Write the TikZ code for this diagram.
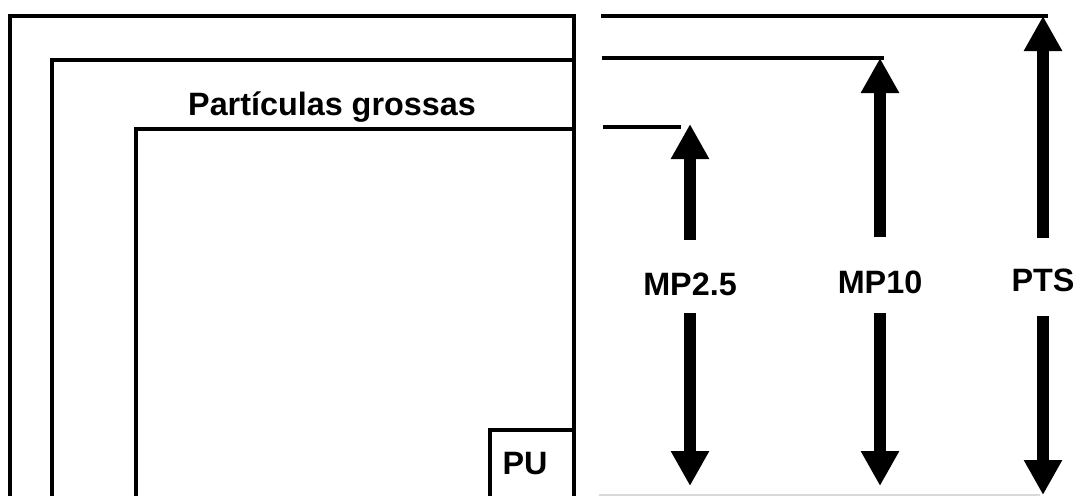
\documentclass[tikz,border=0pt]{standalone}
\usepackage{fontspec}
\setmainfont{Liberation Sans}
\usepackage{tikz}
\usetikzlibrary{arrows.meta, positioning}
\definecolor{linha}{gray}{0}
\tikzset{
	caixa/.style={linha, line width=0.115cm},
	rotulo/.style={anchor=base, inner sep=0pt, font=\fontsize{23}{27}\selectfont\bfseries},
	seta/.style={line width=0.29cm, -{Triangle[width=0.9cm, length=0.875cm]}}
}

\begin{document}
\begin{tikzpicture}[x=0.025cm, y=-0.025cm]
\useasboundingbox (0,0) rectangle (1078,496);
\draw[caixa](10,496)--(10,16)--(574,16)--(574,496);
\draw[caixa](52,496)--(52,60)--(574,60);
\draw[caixa](136,496)--(136,129)--(574,129);
\draw[caixa](490,496)--(490,430)--(574,430);
\node[rotulo] (grossas) at (332,115) {Partículas grossas};
\node[rotulo] (pu) at (525,474) {PU};
\draw[caixa](601,16)--(1048,16);
\draw[caixa](602,58)--(884,58);
\draw[caixa](603,127)--(681,127);
\draw[gray!30, line width=0.04cm](599,495)--(1040,495);
\foreach \nome/\x/\base/\topo/\ini/\fim/\pe/\txt in {mpdois/690/295/124/240/313/486/MP2.5, mpdez/880/293/58/237/313/486/MP10, pts/1043/291/16/238/316/495/PTS}
{
	\node[rotulo] (\nome) at (\x,\base) {\txt};
	\coordinate (\nome-a) at (\x,\ini);
	\coordinate (\nome-b) at (\x,\topo);
	\coordinate (\nome-c) at (\x,\fim);
	\coordinate (\nome-d) at (\x,\pe);
	\draw[seta] (\nome-a) -- (\nome-b);
	\draw[seta] (\nome-c) -- (\nome-d);
}
\end{tikzpicture}
\end{document}
